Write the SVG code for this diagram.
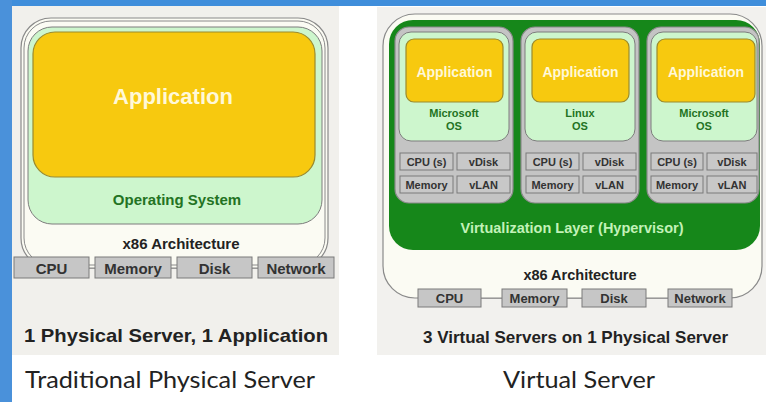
<svg xmlns="http://www.w3.org/2000/svg" width="766" height="402" viewBox="0 0 766 402">
<style>
.b{font-family:"Liberation Sans",Arial,sans-serif;font-weight:bold;text-anchor:middle}
.cap{font-family:Lato,"Open Sans",sans-serif;fill:#222}
.hw{fill:#c6c6c6;stroke:#7a7a7a;stroke-width:1}
.hwt{fill:#333}
.os{fill:#cdf6cd;stroke:#7d7d7d;stroke-width:1}
.app{fill:#f7c90f;stroke:#9a8a2e;stroke-width:1.2}
.appt{fill:#fff8d8}
.vm{fill:#c4c4c4;stroke:#8a8a8a;stroke-width:1.2}
.vb{fill:#c8c8c8;stroke:#7a7a7a;stroke-width:1}
.ost{fill:#237323}
.conn{stroke:#7a7a7a;stroke-width:1.2;fill:none}
</style>
<rect x="0" y="0" width="766" height="402" fill="#ffffff"/>
<rect x="0" y="0" width="766" height="6" fill="#3f8edb"/>
<rect x="0" y="0" width="12" height="402" fill="#4a91da"/>
<rect x="12" y="6" width="327" height="349" fill="#f1f0ec"/>
<rect x="377" y="7" width="389" height="348" fill="#f2f1ee"/>

<g id="connectors">
<line class="conn" x1="89" y1="268" x2="95" y2="268"/>
<line class="conn" x1="171" y1="268" x2="177" y2="268"/>
<line class="conn" x1="252" y1="268" x2="258" y2="268"/>
<line class="conn" x1="481" y1="298" x2="502" y2="298"/>
<line class="conn" x1="567" y1="298" x2="582" y2="298"/>
<line class="conn" x1="646" y1="298" x2="668" y2="298"/>
</g>

<g id="left-server">
<rect x="21" y="18" width="307" height="250" rx="30" fill="#fbfbf3" stroke="#8a8a8a" stroke-width="1.2"/>
<rect x="24" y="21" width="301" height="244" rx="27" fill="none" stroke="#8a8a8a" stroke-width="1"/>
<text class="b" x="181" y="249" font-size="15" fill="#222">x86 Architecture</text>
</g>
<g id="left-os">
<rect class="os" x="28" y="27" width="294" height="197" rx="24"/>
<text class="b ost" x="177" y="205" font-size="15">Operating System</text>
</g>
<g id="left-app">
<rect class="app" x="33" y="32" width="282" height="145" rx="22"/>
<text class="b appt" x="173" y="104" font-size="22">Application</text>
</g>
<g id="left-cpu"><rect class="hw" x="14" y="257" width="75" height="21"/><text class="b hwt" x="51.5" y="274" font-size="15">CPU</text></g>
<g id="left-memory"><rect class="hw" x="95" y="257" width="76" height="21"/><text class="b hwt" x="133" y="274" font-size="15">Memory</text></g>
<g id="left-disk"><rect class="hw" x="177" y="257" width="75" height="21"/><text class="b hwt" x="214.5" y="274" font-size="15">Disk</text></g>
<g id="left-network"><rect class="hw" x="258" y="257" width="76" height="21"/><text class="b hwt" x="296" y="274" font-size="15">Network</text></g>
<text class="b" x="24" y="342" font-size="19" fill="#222" style="text-anchor:start" textLength="304" lengthAdjust="spacingAndGlyphs">1 Physical Server, 1 Application</text>
<text class="cap" x="25" y="388" font-size="24" textLength="290" lengthAdjust="spacingAndGlyphs">Traditional Physical Server</text>

<g id="right-server">
<rect x="383" y="14" width="379" height="284" rx="32" fill="#fbfbf3" stroke="#8a8a8a" stroke-width="1.2"/>
<text class="b" x="580" y="280" font-size="14.5" fill="#222">x86 Architecture</text>
</g>
<g id="hypervisor">
<rect x="389" y="20" width="371" height="230" rx="24" fill="#16871a"/>
<text class="b" x="572" y="233" font-size="14.5" fill="#c2f2b8">Virtualization Layer (Hypervisor)</text>
</g>

<g id="vm1">
<rect class="vm" x="395" y="27" width="118" height="176" rx="14"/>
<rect class="os" x="399" y="32" width="110" height="109" rx="12"/>
<rect class="app" x="406" y="39" width="97" height="63" rx="8"/>
<text class="b appt" x="454.5" y="77" font-size="14">Application</text>
<text class="b ost" x="454" y="117" font-size="11">Microsoft</text>
<text class="b ost" x="454" y="130" font-size="11">OS</text>
<rect class="vb" x="400" y="153" width="53" height="17"/><text class="b hwt" x="426.5" y="165.5" font-size="11">CPU (s)</text>
<rect class="vb" x="457" y="153" width="53" height="17"/><text class="b hwt" x="483.5" y="165.5" font-size="11">vDisk</text>
<rect class="vb" x="400" y="176" width="53" height="17"/><text class="b hwt" x="426.5" y="188.5" font-size="11">Memory</text>
<rect class="vb" x="457" y="176" width="53" height="17"/><text class="b hwt" x="483.5" y="188.5" font-size="11">vLAN</text>
</g>
<g id="vm2">
<rect class="vm" x="521" y="27" width="118" height="176" rx="14"/>
<rect class="os" x="525" y="32" width="110" height="109" rx="12"/>
<rect class="app" x="532" y="39" width="97" height="63" rx="8"/>
<text class="b appt" x="580.5" y="77" font-size="14">Application</text>
<text class="b ost" x="580" y="117" font-size="11">Linux</text>
<text class="b ost" x="580" y="130" font-size="11">OS</text>
<rect class="vb" x="526" y="153" width="53" height="17"/><text class="b hwt" x="552.5" y="165.5" font-size="11">CPU (s)</text>
<rect class="vb" x="583" y="153" width="53" height="17"/><text class="b hwt" x="609.5" y="165.5" font-size="11">vDisk</text>
<rect class="vb" x="526" y="176" width="53" height="17"/><text class="b hwt" x="552.5" y="188.5" font-size="11">Memory</text>
<rect class="vb" x="583" y="176" width="53" height="17"/><text class="b hwt" x="609.5" y="188.5" font-size="11">vLAN</text>
</g>
<g id="vm3">
<rect class="vm" x="647" y="27" width="112" height="176" rx="14"/>
<rect class="os" x="651" y="32" width="106" height="109" rx="12"/>
<rect class="app" x="657" y="39" width="98" height="63" rx="8"/>
<text class="b appt" x="706" y="77" font-size="14">Application</text>
<text class="b ost" x="704" y="117" font-size="11">Microsoft</text>
<text class="b ost" x="704" y="130" font-size="11">OS</text>
<rect class="vb" x="651" y="153" width="52" height="17"/><text class="b hwt" x="677" y="165.5" font-size="11">CPU (s)</text>
<rect class="vb" x="707" y="153" width="50" height="17"/><text class="b hwt" x="732" y="165.5" font-size="11">vDisk</text>
<rect class="vb" x="651" y="176" width="52" height="17"/><text class="b hwt" x="677" y="188.5" font-size="11">Memory</text>
<rect class="vb" x="707" y="176" width="50" height="17"/><text class="b hwt" x="732" y="188.5" font-size="11">vLAN</text>
</g>

<g id="right-cpu"><rect class="hw" x="418" y="289" width="63" height="18"/><text class="b hwt" x="449.5" y="303" font-size="13">CPU</text></g>
<g id="right-memory"><rect class="hw" x="502" y="289" width="65" height="18"/><text class="b hwt" x="534.5" y="303" font-size="13">Memory</text></g>
<g id="right-disk"><rect class="hw" x="582" y="289" width="64" height="18"/><text class="b hwt" x="614" y="303" font-size="13">Disk</text></g>
<g id="right-network"><rect class="hw" x="668" y="289" width="64" height="18"/><text class="b hwt" x="700" y="303" font-size="13">Network</text></g>
<text class="b" x="423" y="343" font-size="17" fill="#222" style="text-anchor:start" textLength="305" lengthAdjust="spacingAndGlyphs">3 Virtual Servers on 1 Physical Server</text>
<text class="cap" x="503" y="388" font-size="24" textLength="152" lengthAdjust="spacingAndGlyphs">Virtual Server</text>
</svg>
